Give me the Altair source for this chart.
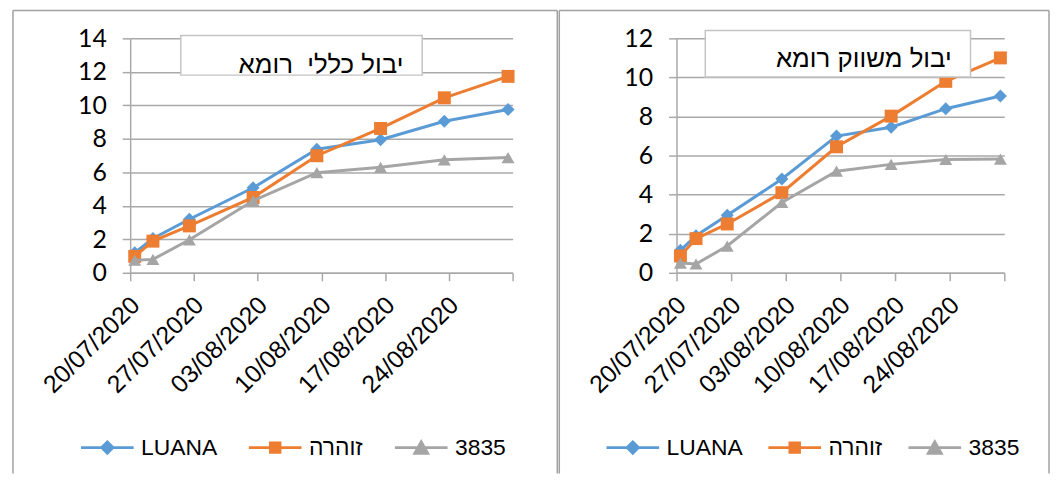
import altair as alt
import pandas as pd

# ---------------- data ----------------
dates = ["2020-07-20", "2020-07-22", "2020-07-26", "2020-08-02",
         "2020-08-09", "2020-08-16", "2020-08-23", "2020-08-30"]
series_names = ["LUANA", "זוהרה", "3835"]
colors = ["#5B9BD5", "#ED7D31", "#A5A5A5"]
marker_shapes = ["diamond", "square", "triangle-up"]

total_luana = [1.2, 2.05, 3.2, 5.08, 7.38, 7.95, 9.05, 9.75]
total_zohara = [0.98, 1.89, 2.8, 4.5, 6.99, 8.62, 10.45, 11.73]
total_3835 = [0.75, 0.8, 1.97, 4.3, 5.98, 6.3, 6.75, 6.88]

market_luana = [1.15, 1.9, 2.95, 4.8, 7.0, 7.45, 8.4, 9.05]
market_zohara = [0.86, 1.75, 2.5, 4.1, 6.45, 8.02, 9.8, 11.0]
market_3835 = [0.5, 0.45, 1.37, 3.6, 5.2, 5.55, 5.8, 5.82]

tick_dates = [(2020, 7, 20), (2020, 7, 27), (2020, 8, 3), (2020, 8, 10),
              (2020, 8, 17), (2020, 8, 24), (2020, 8, 31)]
y_max_total = 14
y_max_market = 12

titles = ["יבול כללי\u00a0 רומא", "יבול משווק רומא"]

# legend symbols: line with marker, as custom paths
legend_paths = [
    "M-1,0H1M0,-0.21L0.21,0L0,0.21L-0.21,0Z",
    "M-1,0H1M-0.18,-0.18H0.18V0.18H-0.18Z",
    "M-1,0H1M0,-0.21L0.24,0.21L-0.24,0.21Z",
]

GRID = "#a9a9a9"
BORDER = "#a0a0a0"


def dt(y, m, d):
    return alt.DateTime(year=y, month=m, date=d, utc=True)


def panel(vals, ymax, title, width, box, text_pos, legend_x, col_pad, right_edge):
    height = 236
    df = pd.DataFrame({
        "date": dates * 3,
        "series": [s for s in series_names for _ in dates],
        "value": vals[0] + vals[1] + vals[2],
    })
    base = alt.Chart(df).transform_calculate(
        t="time(utcParse(datum.date, '%Y-%m-%d')) + 43200000"
    )
    last = "%02d/%02d/%d" % (tick_dates[-1][2], tick_dates[-1][1], tick_dates[-1][0])
    x = alt.X(
        "t:T",
        scale=alt.Scale(type="utc", domain=[dt(*tick_dates[0]), dt(*tick_dates[-1])], nice=False),
        axis=alt.Axis(
            values=[dt(*d) for d in tick_dates],
            labelExpr="utcFormat(datum.value, '%d/%m/%Y') == '" + last + "' ? '' : utcFormat(datum.value, '%d/%m/%Y')",
            labelAngle=-45, labelAlign="right", labelBaseline="middle",
            labelFont="Liberation Sans", labelFontSize=25, labelColor="black",
            labelPadding=20, labelOffset=5, labelOverlap=False, labelFlush=False,
            tickSize=8, tickColor=GRID, tickWidth=1.5, domainColor=GRID, domainWidth=1.5,
            grid=False, title=None,
        ),
    )
    y = alt.Y(
        "value:Q",
        scale=alt.Scale(domain=[0, ymax], nice=False),
        axis=alt.Axis(
            values=list(range(0, ymax + 1, 2)),
            labelFont="Lato", labelFontSize=25, labelColor="black", labelPadding=16,
            tickSize=8, tickColor=GRID, tickWidth=1.5, domainColor=GRID, domainWidth=1.5,
            grid=True, gridColor=GRID, gridWidth=1.5, title=None,
        ),
    )

    one = alt.Data(values=[{"title": title}])
    layers = []
    # panel border (left, top, right)
    layers.append(alt.Chart(one).mark_rule(color=BORDER, strokeWidth=1.5).encode(
        x=alt.value(-118), y=alt.value(-28), y2=alt.value(438)))
    layers.append(alt.Chart(one).mark_rule(color=BORDER, strokeWidth=1.5).encode(
        x=alt.value(-118), x2=alt.value(right_edge), y=alt.value(-28)))
    layers.append(alt.Chart(one).mark_rule(color=BORDER, strokeWidth=1.5).encode(
        x=alt.value(right_edge), y=alt.value(-28), y2=alt.value(438)))

    for s, c, shp in zip(series_names, colors, marker_shapes):
        sel = base.transform_filter(alt.datum.series == s)
        layers.append(sel.mark_line(color=c, strokeWidth=3).encode(x=x, y=y))
        layers.append(sel.mark_point(shape=shp, filled=True, size=170, color=c, opacity=1).encode(x=x, y=y))

    # title box
    layers.append(alt.Chart(one).mark_rect(fill="white", stroke="#c4c4c4", strokeWidth=1.5).encode(
        x=alt.value(box[0]), x2=alt.value(box[1]), y=alt.value(box[2]), y2=alt.value(box[3])))
    layers.append(alt.Chart(one).mark_text(
        align="right", baseline="alphabetic", font="Liberation Sans", fontSize=26, color="black"
    ).encode(x=alt.value(text_pos[0]), y=alt.value(text_pos[1]), text="title:N"))

    leg = alt.Legend(
        title=None, orient="none", legendX=legend_x, legendY=384, direction="horizontal",
        symbolSize=2809, symbolStrokeWidth=3, labelFont="Liberation Sans", labelFontSize=23,
        labelColor="black", labelOffset=6, columnPadding=col_pad, padding=0,
    )
    layers.append(base.transform_filter("false").mark_point(filled=True, opacity=1, strokeWidth=3).encode(
        fill=alt.Fill("series:N", scale=alt.Scale(domain=series_names, range=colors), legend=leg),
        stroke=alt.Stroke("series:N", scale=alt.Scale(domain=series_names, range=colors), legend=leg),
        shape=alt.Shape("series:N", scale=alt.Scale(domain=series_names, range=legend_paths), legend=leg),
    ))
    return alt.layer(*layers).properties(width=width, height=height)


left = panel([total_luana, total_zohara, total_3835], y_max_total, titles[0], 385,
             (51, 294, -3, 37), (275, 35), -51, 25, 430)
right = panel([market_luana, market_zohara, market_3835], y_max_market, titles[1], 330,
              (29, 296, -8, 39), (277, 29), -72, 19, 375)

chart = alt.hconcat(left, right, spacing=0).resolve_scale(
    x="independent", y="independent", fill="independent", stroke="independent", shape="independent"
).configure_view(strokeWidth=0).properties(
    padding={"left": 4, "top": 0, "right": 0, "bottom": 0}, background="white"
)

chart.save("out.html", embed_options={"renderer": "svg", "actions": False})
